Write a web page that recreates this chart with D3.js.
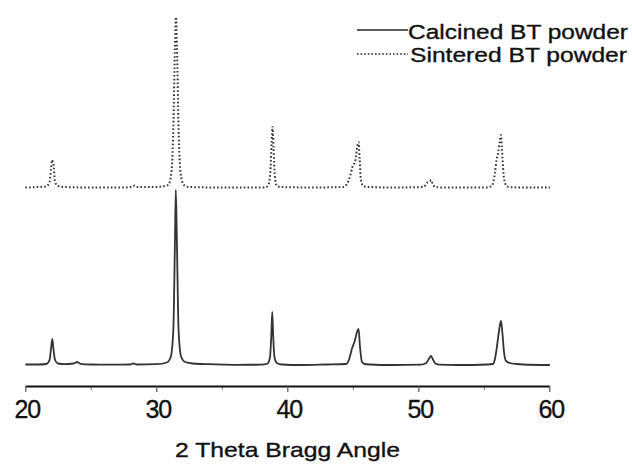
<!DOCTYPE html>
<html>
<head>
<meta charset="utf-8">
<script src="https://cdn.jsdelivr.net/npm/d3@7"></script>
<style>
    body { margin: 0; background: #fff; }
    text { font-family: "Liberation Sans", Arial, sans-serif; fill: #111; stroke: #111; stroke-width: 0.35px; }
</style>
</head>
<body>
<script>
(function(){
//pseudo-global variables
//calcined BT powder pattern (2 theta, intensity in arbitrary units)
var calcinedAngle = [20.0, 21.0, 21.6, 21.85, 21.97, 22.06, 22.15, 22.27, 22.5, 23.0, 23.7, 23.95, 24.2, 25.0, 26.5,
    28.0, 28.25, 28.5, 30.0, 30.8, 31.1, 31.3, 31.42, 31.49, 31.57, 31.7, 31.9, 32.2, 32.8, 34.0, 36.0,
    38.0, 38.5, 38.68, 38.78, 38.85, 38.92, 39.02, 39.2, 39.6, 41.0, 43.0,
    44.5, 44.7, 44.95, 45.15, 45.32, 45.44, 45.55, 45.7, 45.9, 46.3, 48.0,
    50.2, 50.6, 50.85, 50.97, 51.1, 51.3, 51.6, 53.0,
    55.3, 55.7, 55.85, 56.0, 56.15, 56.31, 56.42, 56.55, 56.7, 57.0, 57.5, 58.0, 60.05];
var calcinedIntensity = [0.5, 0.5, 1, 5, 17, 26, 16, 5, 1.5, 0.8, 1.5, 3, 1.2, 0.5, 0.3,
    0.5, 1.5, 0.5, 0.8, 2.5, 8, 35, 120, 175, 125, 35, 8, 3, 1.5, 0.8, 0.2,
    0.3, 1.5, 8, 30, 53, 30, 8, 2, 0.5, 0, 0.5,
    1, 5, 17, 24, 33, 36, 18, 3, 1, 0.5, 0,
    0.3, 2, 7, 9, 6, 1.5, 0.3, 0,
    0.5, 1, 6, 18, 33, 44, 32, 12, 4, 2, 1, 0.5, 0];

//sintered BT powder pattern (2 theta, intensity above its own baseline)
var sinteredAngle = [20.0, 21.0, 21.6, 21.85, 21.97, 22.05, 22.1, 22.15, 22.27, 22.5, 23.0, 25.0, 27.5,
    28.2, 28.35, 28.5, 30.0, 30.9, 31.15, 31.3, 31.42, 31.5, 31.58, 31.7, 31.85, 32.1, 32.5, 35.0,
    38.3, 38.55, 38.7, 38.8, 38.87, 38.95, 39.05, 39.2, 39.5, 42.0,
    44.3, 44.55, 44.8, 44.97, 45.2, 45.35, 45.44, 45.52, 45.62, 45.8, 46.2, 48.0,
    50.4, 50.65, 50.75, 50.9, 50.98, 51.1, 51.3, 52.0,
    55.3, 55.65, 55.85, 55.97, 56.1, 56.22, 56.31, 56.38, 56.5, 56.65, 56.9, 58.0, 60.05];
var sinteredIntensity = [0.5, 1, 1.5, 6, 20, 28, 25, 24, 6, 2, 1, 0.5, 0.5,
    1.5, 2.5, 1, 1, 3, 15, 60, 140, 171, 140, 60, 15, 3, 1, 0.5,
    0.5, 3, 15, 45, 61, 40, 12, 2, 1, 0.5,
    1, 4, 12, 21, 28, 42, 46, 30, 8, 2, 1, 0.5,
    1, 5, 6, 7, 8, 4, 1, 0.5,
    0.5, 3, 15, 28, 35, 47, 53, 40, 15, 4, 1, 0.5, 0.5];
var sinteredOffset = 177; //vertical shift of the sintered pattern

var majorTicks = [20, 30, 40, 50, 60];
var minorTicks = [25, 35, 45, 55];
var legendLabels = ["Calcined BT powder", "Sintered BT powder"];
var axisTitle = "2 Theta Bragg Angle";

//begin script when window loads
window.onload = setChart();

//set up the diffraction chart
function setChart(){
    var width = 632,
        height = 464;

    var svg = d3.select("body")
        .append("svg")
        .attr("class", "chart")
        .attr("width", width)
        .attr("height", height);

    //scales
    var x = d3.scaleLinear()
        .domain([20, 60])
        .range([25.3, 549.3]);

    var y = d3.scaleLinear()
        .domain([0, 350])
        .range([365, 15]);

    //join angles and intensities into point lists
    var calcined = calcinedAngle.map(function(a, i){
        return {angle: a, value: calcinedIntensity[i]};
    });
    var sintered = sinteredAngle.map(function(a, i){
        return {angle: a, value: sinteredIntensity[i] + sinteredOffset};
    });

    var line = d3.line()
        .x(function(d){ return x(d.angle); })
        .y(function(d){ return y(d.value); })
        .curve(d3.curveMonotoneX);

    svg.append("path")
        .datum(calcined)
        .attr("class", "calcined")
        .attr("d", line)
        .attr("fill", "none")
        .attr("stroke", "#333")
        .attr("stroke-width", 1.8);

    svg.append("path")
        .datum(sintered)
        .attr("class", "sintered")
        .attr("d", line)
        .attr("fill", "none")
        .attr("stroke", "#333")
        .attr("stroke-width", 2)
        .attr("stroke-dasharray", "1.6,2.2");

    makeAxis(svg, x);
    makeLegend(svg);
};

//bottom axis with major and minor ticks
function makeAxis(svg, x){
    var minorAxis = d3.axisBottom(x)
        .tickValues(minorTicks)
        .tickSize(4)
        .tickSizeOuter(0)
        .tickFormat("");

    var minor = svg.append("g")
        .attr("class", "minor")
        .attr("transform", "translate(0,386)")
        .call(minorAxis);
    minor.select(".domain").remove();
    minor.selectAll("line").attr("stroke", "#777");

    var majorAxis = d3.axisBottom(x)
        .tickValues(majorTicks)
        .tickSize(6)
        .tickSizeOuter(0)
        .tickPadding(8)
        .tickFormat(d3.format("d"));

    var major = svg.append("g")
        .attr("class", "major")
        .attr("transform", "translate(0,386)")
        .call(majorAxis);
    major.select(".domain")
        .attr("stroke", "#111")
        .attr("stroke-width", 2);
    major.selectAll("line").attr("stroke", "#555").attr("stroke-width", 1.2);
    major.selectAll("text")
        .attr("x", 1.5)
        .style("font-size", "25px")
        .style("font-family", "'Liberation Sans', Arial, sans-serif")
        .style("letter-spacing", "-1px")
        .attr("fill", "#111");

    svg.append("text")
        .attr("class", "axisTitle")
        .attr("x", 175)
        .attr("y", 456.5)
        .attr("textLength", 225)
        .attr("lengthAdjust", "spacingAndGlyphs")
        .style("font-size", "21px")
        .text(axisTitle);
};

//legend in the upper right corner
function makeLegend(svg){
    var rows = [
        {label: legendLabels[0], y: 30, textY: 39, dash: null, len: 220},
        {label: legendLabels[1], y: 54, textY: 62, dash: "1.6,2", len: 217}
    ];

    var legend = svg.append("g").attr("class", "legend");

    rows.forEach(function(r, i){
        legend.append("line")
            .attr("x1", 357)
            .attr("x2", 408)
            .attr("y1", r.y)
            .attr("y2", r.y)
            .attr("stroke", "#222")
            .attr("stroke-width", 1.3)
            .attr("stroke-dasharray", r.dash);

        legend.append("text")
            .attr("x", i == 0 ? 408 : 410)
            .attr("y", r.textY)
            .attr("textLength", r.len)
            .attr("lengthAdjust", "spacingAndGlyphs")
            .style("font-size", "20.5px")
            .text(r.label);
    });
};
})();
</script>
</body>
</html>
